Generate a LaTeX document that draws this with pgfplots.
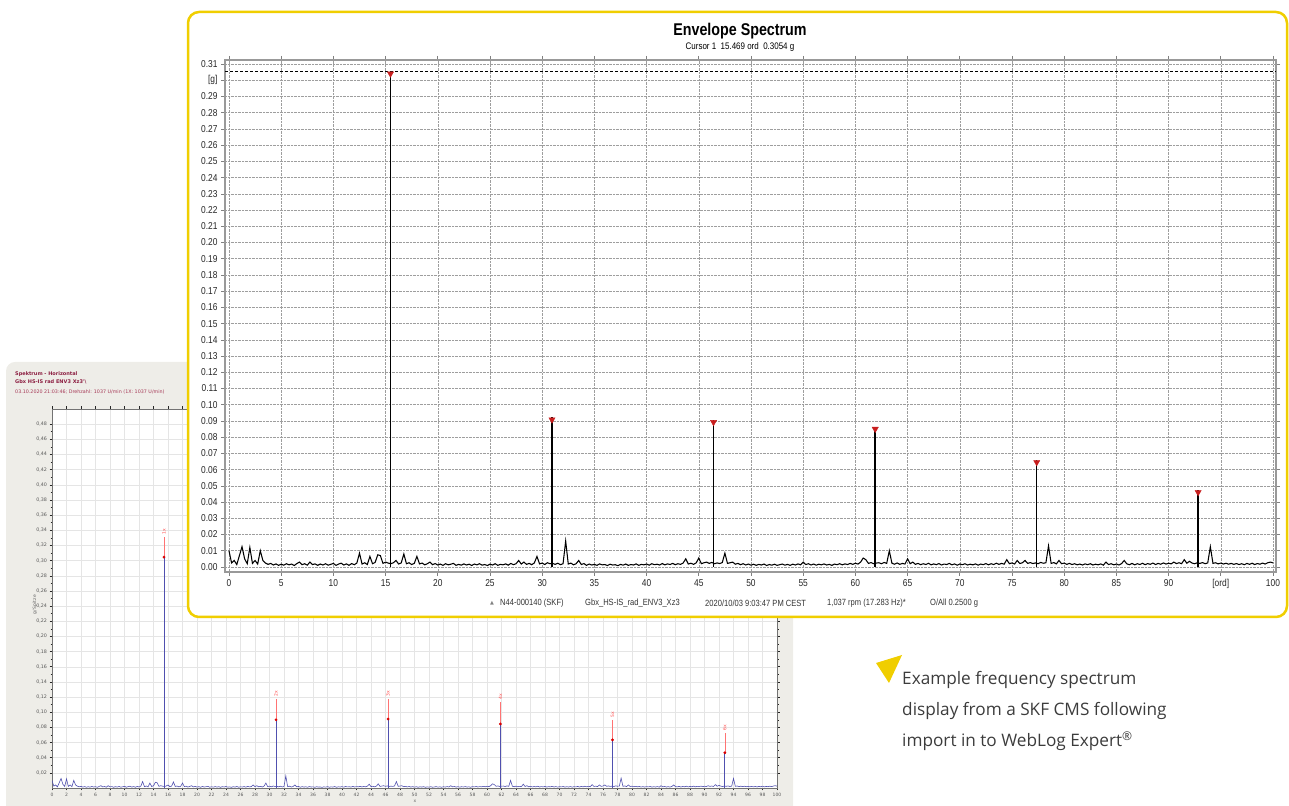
\documentclass[border=0pt]{standalone}
\usepackage{fontspec}
\setmainfont{Liberation Sans}
\newfontfamily\capfont{Open Sans}
\newfontfamily\djv{DejaVu Sans}
\newfontfamily\narrowfont[FakeStretch=0.84]{Liberation Sans}
\usepackage{pgfplots}
\usepackage{pgfplotstable}
\pgfplotsset{compat=1.18}
\definecolor{skfyellow}{RGB}{240,206,0}
\definecolor{panelgray}{RGB}{238,237,232}
\definecolor{maroon}{RGB}{140,30,65}
\definecolor{maroonlt}{RGB}{165,55,85}
\definecolor{backblue}{RGB}{80,80,175}
\definecolor{capgray}{RGB}{60,60,60}
\definecolor{cursred}{RGB}{200,30,30}

% noise floor in thousandths of g
\pgfplotstableread[row sep=\\]{
x y\\
0 10\\ 0.25 2.5\\ 0.5 4\\ 0.75 1.5\\ 1 7\\ 1.25 12.5\\ 1.5 5\\ 1.75 2\\ 2 12\\ 2.25 2.2\\ 2.5 4\\ 2.75 1.8\\
3 10\\ 3.25 4\\ 3.5 2.4\\ 3.75 1.6\\ 4 2.2\\ 4.25 1.2\\ 4.5 1.9\\ 4.75 1.0\\ 5 1.7\\ 5.25 1.1\\ 5.5 2.0\\ 5.75 1.3\\
6 1.8\\ 6.25 0.9\\ 6.5 2.1\\ 6.75 3\\ 7 1.4\\ 7.25 2.0\\ 7.5 1.1\\ 7.75 3\\ 8 1.5\\ 8.25 1.9\\ 8.5 1.0\\ 8.75 1.8\\
9 1.2\\ 9.25 2.0\\ 9.5 1.1\\ 9.75 1.6\\ 10 2.2\\ 10.25 1.0\\ 10.5 1.8\\ 10.75 2.3\\ 11 1.2\\ 11.25 1.9\\ 11.5 1.0\\ 11.75 2.1\\
12 1.4\\ 12.25 2.4\\ 12.5 8.5\\ 12.75 1.8\\ 13 2.6\\ 13.25 1.5\\ 13.5 6.5\\ 13.75 2.0\\ 14 2.8\\ 14.25 7.5\\ 14.5 7\\ 14.75 2.2\\
15 3\\ 15.25 2.4\\ 15.5 2.0\\ 15.75 2.6\\ 16 4\\ 16.25 1.8\\ 16.5 2.5\\ 16.75 8\\ 17 2.0\\ 17.25 2.6\\ 17.5 1.5\\ 17.75 2.2\\
18 6.5\\ 18.25 1.9\\ 18.5 2.4\\ 18.75 1.3\\ 19 2.0\\ 19.25 3\\ 19.5 1.4\\ 19.75 2.1\\ 20 1.2\\ 20.25 1.8\\ 20.5 1.0\\ 20.75 2.0\\
21 1.3\\ 21.25 1.7\\ 21.5 2.2\\ 21.75 1.0\\ 22 1.6\\ 22.25 1.1\\ 22.5 1.9\\ 22.75 1.2\\ 23 1.7\\ 23.25 0.9\\ 23.5 1.8\\ 23.75 1.3\\
24 2.0\\ 24.25 1.1\\ 24.5 1.5\\ 24.75 0.9\\ 25 1.7\\ 25.25 1.2\\ 25.5 2.0\\ 25.75 1.0\\ 26 1.6\\ 26.25 1.3\\ 26.5 1.9\\ 26.75 1.1\\
27 2.2\\ 27.25 1.4\\ 27.5 2.0\\ 27.75 4\\ 28 1.8\\ 28.25 3\\ 28.5 1.6\\ 28.75 2.2\\ 29 1.4\\ 29.25 2.5\\ 29.5 6.5\\ 29.75 1.9\\
30 2.4\\ 30.25 1.5\\ 30.5 2.6\\ 30.75 2.0\\ 31 2.2\\ 31.25 1.6\\ 31.5 2.3\\ 31.75 1.4\\ 32 2.0\\ 32.25 16\\ 32.5 1.8\\ 32.75 2.4\\
33 1.3\\ 33.25 2.0\\ 33.5 4\\ 33.75 1.5\\ 34 2.1\\ 34.25 1.0\\ 34.5 1.8\\ 34.75 1.2\\ 35 1.6\\ 35.25 1.0\\ 35.5 1.9\\ 35.75 1.3\\
36 1.5\\ 36.25 0.9\\ 36.5 1.7\\ 36.75 1.2\\ 37 1.4\\ 37.25 0.8\\ 37.5 1.6\\ 37.75 1.1\\ 38 1.8\\ 38.25 1.0\\ 38.5 1.5\\ 38.75 1.2\\
39 1.9\\ 39.25 1.0\\ 39.5 1.6\\ 39.75 1.3\\ 40 1.8\\ 40.25 1.1\\ 40.5 2.0\\ 40.75 1.4\\ 41 1.7\\ 41.25 1.2\\ 41.5 2.1\\ 41.75 1.3\\
42 1.9\\ 42.25 1.5\\ 42.5 2.2\\ 42.75 1.4\\ 43 2.0\\ 43.25 1.6\\ 43.5 2.4\\ 43.75 5\\ 44 1.8\\ 44.25 2.3\\ 44.5 1.6\\ 44.75 2.5\\
45 5.5\\ 45.25 2.0\\ 45.5 2.6\\ 45.75 3\\ 46 2.2\\ 46.25 2.8\\ 46.5 2.0\\ 46.75 2.5\\ 47 2.1\\ 47.25 2.7\\ 47.5 8.5\\ 47.75 2.2\\
48 2.6\\ 48.25 3\\ 48.5 1.7\\ 48.75 2.2\\ 49 1.4\\ 49.25 2.0\\ 49.5 1.2\\ 49.75 1.8\\ 50 1.1\\ 50.25 1.7\\ 50.5 1.0\\ 50.75 1.6\\
51 1.2\\ 51.25 1.8\\ 51.5 0.9\\ 51.75 1.5\\ 52 1.1\\ 52.25 1.7\\ 52.5 1.0\\ 52.75 1.4\\ 53 1.8\\ 53.25 1.1\\ 53.5 1.6\\ 53.75 1.0\\
54 1.7\\ 54.25 1.2\\ 54.5 1.9\\ 54.75 1.3\\ 55 3\\ 55.25 1.5\\ 55.5 2.0\\ 55.75 1.2\\ 56 1.8\\ 56.25 1.1\\ 56.5 1.7\\ 56.75 1.3\\
57 1.9\\ 57.25 1.2\\ 57.5 1.6\\ 57.75 1.0\\ 58 1.8\\ 58.25 1.4\\ 58.5 2.0\\ 58.75 1.3\\ 59 1.9\\ 59.25 1.5\\ 59.5 2.2\\ 59.75 1.6\\
60 2.3\\ 60.25 1.8\\ 60.5 3\\ 60.75 5.5\\ 61 4.5\\ 61.25 2.2\\ 61.5 2.7\\ 61.75 2.0\\ 62 2.4\\ 62.25 2.6\\ 62.5 2.0\\ 62.75 2.8\\
63 2.2\\ 63.25 10\\ 63.5 2.3\\ 63.75 1.7\\ 64 2.5\\ 64.25 1.6\\ 64.5 2.2\\ 64.75 1.8\\ 65 5\\ 65.25 2.0\\ 65.5 3\\ 65.75 1.6\\
66 2.2\\ 66.25 1.4\\ 66.5 2.0\\ 66.75 1.5\\ 67 2.3\\ 67.25 1.3\\ 67.5 1.9\\ 67.75 1.4\\ 68 2.1\\ 68.25 1.2\\ 68.5 1.8\\ 68.75 1.5\\
69 2.2\\ 69.25 1.3\\ 69.5 1.9\\ 69.75 1.1\\ 70 1.8\\ 70.25 1.4\\ 70.5 2.0\\ 70.75 1.2\\ 71 1.7\\ 71.25 1.3\\ 71.5 1.9\\ 71.75 1.1\\
72 1.8\\ 72.25 1.4\\ 72.5 2.1\\ 72.75 1.3\\ 73 2.0\\ 73.25 1.5\\ 73.5 2.3\\ 73.75 1.6\\ 74 2.2\\ 74.25 1.7\\ 74.5 4.5\\ 74.75 2.0\\
75 2.5\\ 75.25 1.8\\ 75.5 4\\ 75.75 2.1\\ 76 2.6\\ 76.25 4\\ 76.5 2.2\\ 76.75 2.7\\ 77 2.1\\ 77.25 2.5\\ 77.5 2.0\\ 77.75 2.8\\
78 2.3\\ 78.25 2.6\\ 78.5 13\\ 78.75 2.2\\ 79 2.7\\ 79.25 1.9\\ 79.5 4\\ 79.75 2.0\\ 80 2.4\\ 80.25 1.6\\ 80.5 2.2\\ 80.75 1.5\\
81 2.0\\ 81.25 1.3\\ 81.5 1.8\\ 81.75 1.2\\ 82 1.9\\ 82.25 1.4\\ 82.5 2.0\\ 82.75 1.2\\ 83 1.7\\ 83.25 1.3\\ 83.5 1.9\\ 83.75 1.1\\
84 3\\ 84.25 1.5\\ 84.5 2.0\\ 84.75 1.3\\ 85 1.8\\ 85.25 1.2\\ 85.5 2.1\\ 85.75 4\\ 86 1.9\\ 86.25 1.4\\ 86.5 2.2\\ 86.75 1.3\\
87 2.0\\ 87.25 1.5\\ 87.5 2.3\\ 87.75 1.4\\ 88 2.1\\ 88.25 1.6\\ 88.5 2.4\\ 88.75 1.5\\ 89 2.2\\ 89.25 1.7\\ 89.5 2.5\\ 89.75 1.8\\
90 2.3\\ 90.25 1.9\\ 90.5 3\\ 90.75 2.1\\ 91 2.6\\ 91.25 2.0\\ 91.5 4.5\\ 91.75 2.3\\ 92 3.5\\ 92.25 2.4\\ 92.5 2.0\\ 92.75 2.6\\
93 2.2\\ 93.25 2.7\\ 93.5 2.0\\ 93.75 2.5\\ 94 12.5\\ 94.25 2.2\\ 94.5 2.6\\ 94.75 1.9\\ 95 2.4\\ 95.25 1.8\\ 95.5 2.3\\ 95.75 1.7\\
96 2.2\\ 96.25 1.6\\ 96.5 2.1\\ 96.75 1.5\\ 97 2.0\\ 97.25 1.4\\ 97.5 2.2\\ 97.75 1.6\\ 98 2.3\\ 98.25 1.5\\ 98.5 2.1\\ 98.75 1.7\\
99 2.4\\ 99.25 1.8\\ 99.5 2.6\\ 99.75 3\\ 100 2.5\\
}\noise

\begin{document}
\begin{tikzpicture}[x=1pt,y=1pt]
\path[use as bounding box] (0,0) rectangle (1289,805);
\clip (0,0) rectangle (1289,805);

% ---------- back panel ----------
\fill[panelgray, rounded corners=9pt] (6,-30) rectangle (793,443);
\node[anchor=west, inner sep=0pt, text=maroon, font=\djv\bfseries\fontsize{5}{6}\selectfont] at (15,431) {Spektrum - Horizontal};
\node[anchor=west, inner sep=0pt, text=maroon, font=\djv\bfseries\fontsize{5}{6}\selectfont] at (15,423) {Gbx HS-IS rad ENV3 Xz3'\textbackslash};
\node[anchor=west, inner sep=0pt, text=maroonlt, font=\djv\fontsize{4.8}{6}\selectfont] at (15,413) {03.10.2020 21:03:46; Drehzahl: 1037 U/min (1X: 1037 U/min)};
\node[rotate=90, inner sep=0pt, text=black!60, font=\djv\fontsize{4.5}{5}\selectfont] at (35,200) {g/ Spitze};
\node[inner sep=0pt, text=black!60, font=\djv\fontsize{4.5}{5}\selectfont] at (415,4) {x};

\begin{axis}[
  at={(52pt,17pt)}, anchor=south west, scale only axis,
  width=725pt, height=379pt,
  xmin=0, xmax=100, ymin=0, ymax=500,
  axis background/.style={fill=white},
  xtick={0,2,...,100},
  ytick={20,40,...,480},
  yticklabels={{0,02},{0,04},{0,06},{0,08},{0,10},{0,12},{0,14},{0,16},{0,18},{0,20},{0,22},{0,24},{0,26},{0,28},{0,30},{0,32},{0,34},{0,36},{0,38},{0,40},{0,42},{0,44},{0,46},{0,48}},
  minor y tick num=1,
  grid=major, major grid style={black!10, line width=0.4pt},
  tick align=outside, major tick length=2.5pt, minor tick length=1.5pt,
  tick style={black!85, line width=0.5pt},
  axis line style={black!55, line width=0.6pt},
  /pgf/number format/assume math mode=true,
  yticklabel style={font=\djv\fontsize{4.8}{5}\selectfont, text=black!65, xshift=1pt},
  xticklabel style={font=\djv\fontsize{4.5}{5}\selectfont, text=black!65, yshift=1pt},
]
\addplot[backblue, line width=0.6pt] table {\noise};
\addplot[backblue, ycomb, line width=0.8pt] coordinates {(15.45,304.6)(30.9,90)(46.35,91)(61.85,84.5)(77.3,63.5)(92.8,46.5)};
\addplot[red!55, line width=0.6pt] coordinates {(15.45,304.6)(15.45,331)};
\addplot[red!55, line width=0.6pt] coordinates {(30.9,90)(30.9,117)};
\addplot[red!55, line width=0.6pt] coordinates {(46.35,91)(46.35,117)};
\addplot[red!55, line width=0.6pt] coordinates {(61.85,84.5)(61.85,114)};
\addplot[red!55, line width=0.6pt] coordinates {(77.3,63.5)(77.3,90)};
\addplot[red!55, line width=0.6pt] coordinates {(92.8,46.5)(92.8,73)};
\addplot[only marks, mark=*, mark size=1.2pt, red!85!black] coordinates {(15.45,304.6)(30.9,90)(46.35,91)(61.85,84.5)(77.3,63.5)(92.8,46.5)};
\node[rotate=90, inner sep=0pt, text=red!70, font=\djv\fontsize{4.5}{5}\selectfont] at (axis cs:15.45,338) {1x};
\node[rotate=90, inner sep=0pt, text=red!70, font=\djv\fontsize{4.5}{5}\selectfont] at (axis cs:30.9,124) {2x};
\node[rotate=90, inner sep=0pt, text=red!70, font=\djv\fontsize{4.5}{5}\selectfont] at (axis cs:46.35,124) {3x};
\node[rotate=90, inner sep=0pt, text=red!70, font=\djv\fontsize{4.5}{5}\selectfont] at (axis cs:61.85,121) {4x};
\node[rotate=90, inner sep=0pt, text=red!70, font=\djv\fontsize{4.5}{5}\selectfont] at (axis cs:77.3,97) {5x};
\node[rotate=90, inner sep=0pt, text=red!70, font=\djv\fontsize{4.5}{5}\selectfont] at (axis cs:92.8,80) {6x};
\end{axis}

% ---------- front panel ----------
\draw[skfyellow, fill=white, line width=2.5pt, rounded corners=11pt] (188,188) rectangle (1287,793);
\node[font=\narrowfont\bfseries\fontsize{17}{18}\selectfont, inner sep=0pt] at (740,774) {Envelope Spectrum};
\node[font=\narrowfont\fontsize{9.5}{10}\selectfont, inner sep=0pt] at (740,758) {Cursor 1\ \ 15.469 ord\ \ 0.3054 g};
\begin{scope}[every node/.style={anchor=west, inner sep=0pt, text=black!80, font=\narrowfont\fontsize{9}{10}\selectfont}]
\node[text=black!50, font=\djv\fontsize{5}{6}\selectfont] at (490,202) {▲};
\node at (500,202) {N44-000140 (SKF)};
\node at (585,202) {Gbx\_HS-IS\_rad\_ENV3\_Xz3};
\node at (705,202) {2020/10/03 9:03:47 PM CEST};
\node at (827,202) {1,037 rpm (17.283 Hz)*};
\node at (930,202) {O/All 0.2500 g};
\end{scope}

\begin{axis}[
  at={(225pt,233pt)}, anchor=south west, scale only axis,
  width=1051pt, height=512pt,
  xmin=-0.38, xmax=100.29, ymin=-3.1, ymax=312.5,
  xtick={0,5,...,100},
  xticklabels={0,5,10,15,20,25,30,35,40,45,50,55,60,65,70,75,80,85,90,{[ord]},100},
  ytick={0,10,...,310},
  yticklabels={0.00,0.01,0.02,0.03,0.04,0.05,0.06,0.07,0.08,0.09,0.10,0.11,0.12,0.13,0.14,0.15,0.16,0.17,0.18,0.19,0.20,0.21,0.22,0.23,0.24,0.25,0.26,0.27,0.28,0.29,{[g]},0.31},
  grid=major, major grid style={black!38, densely dotted, line width=0.5pt},
  axis line style={black!40, line width=1.6pt},
  tick align=outside, major tick length=4pt,
  tick style={black!50, line width=0.6pt},
  /pgf/number format/assume math mode=true,
  ticklabel style={font=\narrowfont\fontsize{10}{11}\selectfont, text=black!85},
]
\addplot[black, line width=1.05pt] table {\noise};
\addplot[black, ycomb, line width=1.5pt] coordinates {(15.469,305.4)(30.94,92.2)(46.41,90.6)(61.9,86.4)(77.37,65.9)(92.83,47.4)};
\addplot[black, densely dashed, line width=0.8pt] coordinates {(-0.38,305.4)(100.29,305.4)};
\addplot[only marks, mark=triangle*, mark size=3.6pt, mark options={rotate=180, fill=cursred, draw=cursred, yshift=2.2pt}] coordinates {(15.469,305.4)(30.94,92.2)(46.41,90.6)(61.9,86.4)(77.37,65.9)(92.83,47.4)};
\end{axis}

% ---------- caption ----------
\fill[skfyellow] (876,142) -- (902,150) -- (889,122) -- cycle;
\begin{scope}[every node/.style={anchor=base west, inner sep=0pt, text=capgray, font=\capfont\fontsize{17.2}{19}\selectfont}]
\node at (902,120) {Example frequency spectrum};
\node at (902,89) {display from a SKF CMS following};
\node at (902,58) {import in to WebLog Expert\textsuperscript{®}};
\end{scope}
\end{tikzpicture}
\end{document}
